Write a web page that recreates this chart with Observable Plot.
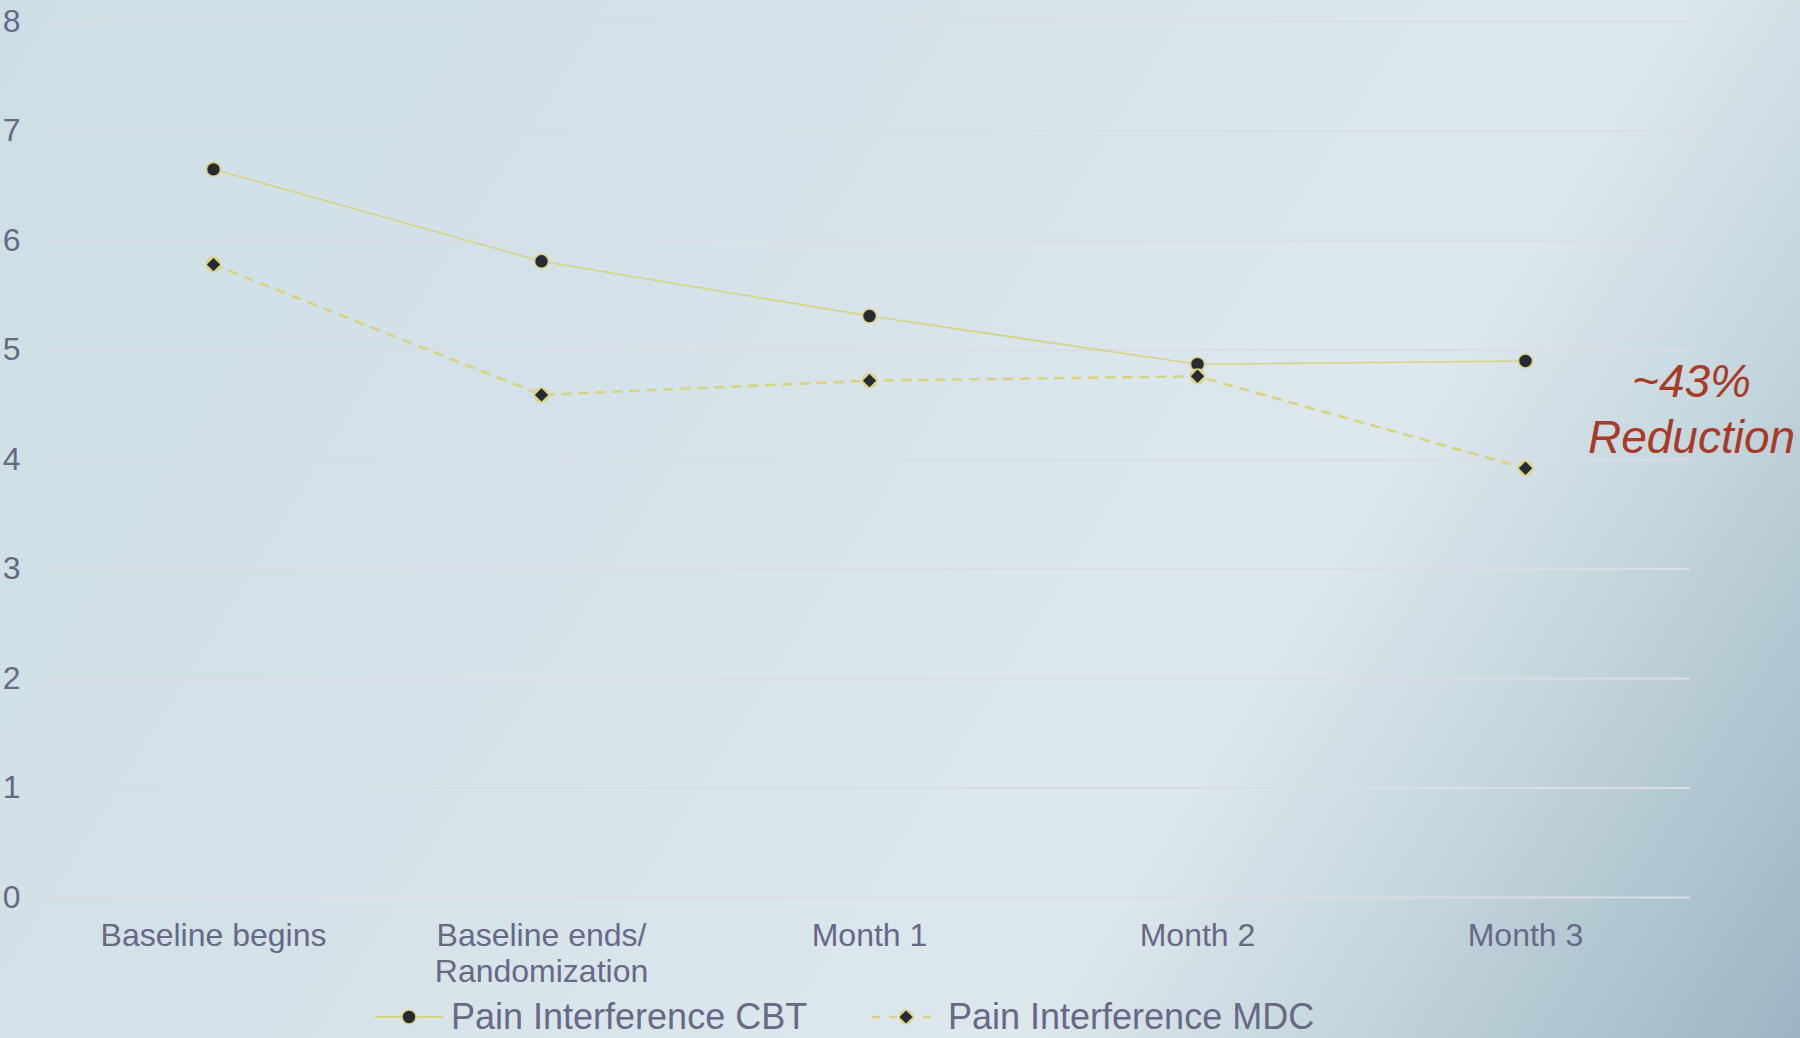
<!DOCTYPE html>
<html>
<head>
<meta charset="utf-8">
<script src="https://cdn.jsdelivr.net/npm/d3@7"></script>
<script src="https://cdn.jsdelivr.net/npm/@observablehq/plot@0.6"></script>
<style>
  html, body { margin: 0; padding: 0; }
  #page {
    width: 1800px; height: 1038px; position: relative; overflow: hidden;
    background: linear-gradient(122deg, #cddfe6 0%, #d3e2e8 30%, #d9e6eb 55%, #dde8ed 68%, #c8d9e0 79%, #9db5c3 100%);
    font-family: "Liberation Sans", Arial, sans-serif;
  }
  #legend { position: absolute; left: 0; top: 996px; width: 1800px; height: 42px; color: #686887; font-size: 36px; line-height: 42px; }
  .item { position: absolute; top: 0; display: flex; align-items: center; height: 42px; }
  .item svg { margin-right: 8px; }
</style>
</head>
<body>
<div id="page">
  <div id="chart"></div>
  <div id="legend"></div>
</div>
<script>
const categories = ["Baseline begins", "Baseline ends/\nRandomization", "Month 1", "Month 2", "Month 3"];
const cbtValues = [6.65, 5.81, 5.31, 4.87, 4.90];
const mdcValues = [5.78, 4.59, 4.72, 4.76, 3.92];
const yTicks = [0, 1, 2, 3, 4, 5, 6, 7, 8];
const seriesNames = ["Pain Interference CBT", "Pain Interference MDC"];
const annotationText = "~43%\nReduction";

const lineColor = "#d9d37f";
const markerColor = "#272935";
const textColor = "#686887";

const cbt = categories.map((c, i) => ({cat: c, value: cbtValues[i]}));
const mdc = categories.map((c, i) => ({cat: c, value: mdcValues[i]}));

const chart = Plot.plot({
  width: 1800,
  height: 990,
  marginLeft: 48,
  marginRight: 110,
  marginTop: 21,
  marginBottom: 93,
  style: {background: "transparent", fontFamily: "'Liberation Sans', Arial, sans-serif", color: textColor},
  x: {type: "point", domain: categories, padding: 0.5},
  y: {domain: [0, 8]},
  marks: [
    Plot.gridY({ticks: yTicks, stroke: "#dcdce4", strokeOpacity: 1, strokeWidth: 2}),
    Plot.axisY({ticks: yTicks, tickFormat: d => String(d), label: null, tickSize: 0, tickPadding: 28, fontSize: 32, fill: textColor}),
    Plot.axisX({tickSize: 0, tickPadding: 22, fontSize: 32, lineHeight: 1.15, fill: textColor, label: null}),
    Plot.line(cbt, {x: "cat", y: "value", stroke: lineColor, strokeWidth: 1.6}),
    Plot.line(mdc, {x: "cat", y: "value", stroke: lineColor, strokeWidth: 2.6, strokeDasharray: "8,9"}),
    Plot.dot(cbt, {x: "cat", y: "value", r: 7, fill: markerColor, stroke: lineColor, strokeWidth: 1.6}),
    Plot.dot(mdc, {x: "cat", y: "value", r: 8, fill: "#dcd68c"}),
    Plot.dot(mdc, {x: "cat", y: "value", r: 6, symbol: "diamond2", fill: markerColor}),
    Plot.text([annotationText], {x: () => "Month 3", y: () => 4.48, text: d => d, dx: 166, fontSize: 46, fontStyle: "italic", fill: "#a83b27", lineHeight: 1.22, textAnchor: "middle"})
  ]
});
document.getElementById("chart").appendChild(chart);

// Legend
const legend = document.getElementById("legend");
const items = [
  {name: seriesNames[0], left: 375, dashed: false},
  {name: seriesNames[1], left: 872, dashed: true}
];
for (const it of items) {
  const div = document.createElement("div");
  div.className = "item";
  div.style.left = it.left + "px";
  const w = 68;
  const svg = d3.create("svg").attr("width", w).attr("height", 20);
  svg.append("line").attr("x1", 0).attr("x2", w).attr("y1", 10).attr("y2", 10)
    .attr("stroke", lineColor).attr("stroke-width", it.dashed ? 2.6 : 1.8)
    .attr("stroke-dasharray", it.dashed ? "8,9" : null);
  if (it.dashed) {
    svg.append("circle").attr("cx", w / 2).attr("cy", 10).attr("r", 7.5).attr("fill", "#dcd68c");
    svg.append("path").attr("d", d3.symbol(d3.symbolDiamond2, 110)()).attr("transform", `translate(${w/2},10)`).attr("fill", markerColor);
  } else {
    svg.append("circle").attr("cx", w / 2).attr("cy", 10).attr("r", 7).attr("fill", markerColor).attr("stroke", lineColor).attr("stroke-width", 1.6);
  }
  div.appendChild(svg.node());
  const span = document.createElement("span");
  span.textContent = it.name;
  div.appendChild(span);
  legend.appendChild(div);
}
</script>
</body>
</html>
